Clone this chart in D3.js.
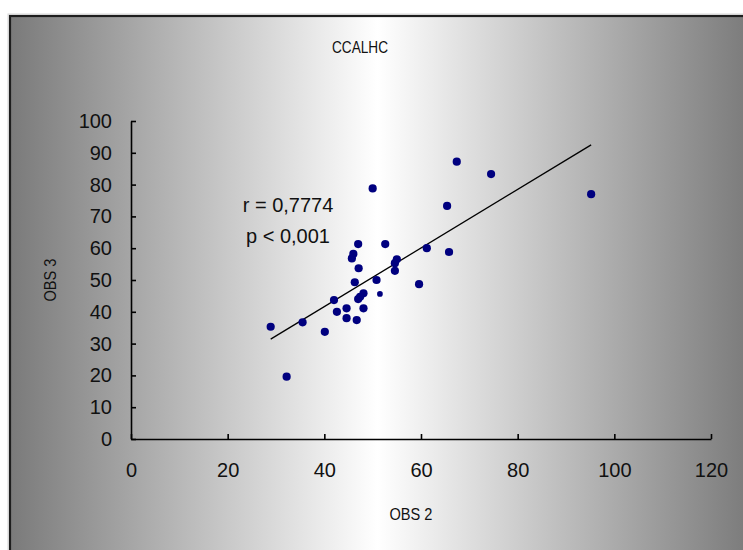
<!DOCTYPE html>
<html>
<head>
<meta charset="utf-8">
<script src="https://cdn.jsdelivr.net/npm/d3@7"></script>
<style>
  html, body { margin: 0; padding: 0; background: #ffffff; }
  svg { display: block; }
  text { font-family: "Liberation Sans", Arial, sans-serif; fill: #111; }
</style>
</head>
<body>
<svg id="chart" width="743" height="550"></svg>
<script>
// ---- data ----
const title = "CCALHC";
const xLabel = "OBS 2";
const yLabel = "OBS 3";
const obs2 = [47.0, 52.6, 46.0, 45.7, 55.0, 54.6, 61.2, 65.8, 47.1, 54.6,
              46.3, 50.8, 59.6, 42.0, 48.1, 47.4, 47.0, 44.6, 42.6, 48.1,
              44.6, 46.7, 35.5, 28.9, 40.1, 32.2, 50.0, 67.4, 65.4, 74.5, 95.2, 51.5];
const obs3 = [61.3, 61.3, 58.2, 56.8, 56.5, 55.3, 60.0, 58.8, 53.7, 52.9,
              49.3, 50.0, 48.7, 43.7, 45.8, 44.7, 44.0, 41.1, 40.0, 41.1,
              38.0, 37.4, 36.7, 35.3, 33.7, 19.6, 78.8, 87.2, 73.3, 83.3, 77.0, 45.6];
const pointSize = [1,1,1,1,1,1,1,1,1,1,1,1,1,1,1,1,1,1,1,1,1,1,1,1,1,1,1,1,1,1,1,0.7];
const trendX = [28.9, 95.2];
const trendY = [31.4, 92.5];
const xTicks = [0, 20, 40, 60, 80, 100, 120];
const yTicks = [0, 10, 20, 30, 40, 50, 60, 70, 80, 90, 100];
const statLines = ["r = 0,7774", "p < 0,001"];

// ---- drawing ----
const svg = d3.select("#chart");
const defs = svg.append("defs");
const grad = defs.append("linearGradient").attr("id", "bg")
  .attr("x1", "0%").attr("x2", "100%").attr("y1", "0%").attr("y2", "0%");
grad.append("stop").attr("offset", "0%").attr("stop-color", "#7a7a7a");
grad.append("stop").attr("offset", "49%").attr("stop-color", "#ffffff");
grad.append("stop").attr("offset", "100%").attr("stop-color", "#777777");

// frame shadow + border + gradient fill
svg.append("rect").attr("x", 8).attr("y", 14).attr("width", 760).attr("height", 560)
  .attr("fill", "none").attr("stroke", "#d8d8d8").attr("stroke-width", 1);
svg.append("rect").attr("x", 10).attr("y", 16).attr("width", 750).attr("height", 550)
  .attr("fill", "url(#bg)").attr("stroke", "#1e1e1e").attr("stroke-width", 2.2);

const x = d3.scaleLinear().domain([0, 120]).range([131, 711]);
const y = d3.scaleLinear().domain([0, 100]).range([439, 121]);

const xAxis = svg.append("g").attr("transform", `translate(0,${y(0)})`)
  .call(d3.axisBottom(x).tickValues(xTicks).tickSizeInner(-5).tickSizeOuter(0).tickPadding(24));
const yAxis = svg.append("g").attr("transform", `translate(${x(0)},0)`)
  .call(d3.axisLeft(y).tickValues(yTicks).tickSizeInner(-5).tickSizeOuter(0).tickPadding(19));
[xAxis, yAxis].forEach(g => {
  g.selectAll("path, line").attr("stroke", "#000").attr("stroke-width", 1.6);
  g.selectAll("text").attr("font-size", 20).attr("fill", "#111")
    .style("font-family", "'Liberation Sans', Arial, sans-serif");
});

// title and axis titles (slightly condensed to match the reference face)
svg.append("text").attr("x", 360).attr("y", 53).attr("text-anchor", "middle")
  .attr("font-size", 17).attr("textLength", 56).attr("lengthAdjust", "spacingAndGlyphs")
  .text(title);
svg.append("text").attr("x", 411).attr("y", 520).attr("text-anchor", "middle")
  .attr("font-size", 17).attr("textLength", 43).attr("lengthAdjust", "spacingAndGlyphs")
  .text(xLabel);
svg.append("text").attr("transform", "translate(56,280) rotate(-90)")
  .attr("text-anchor", "middle").attr("font-size", 17)
  .attr("textLength", 43).attr("lengthAdjust", "spacingAndGlyphs").text(yLabel);

// trendline
const line = d3.line().x(d => x(d[0])).y(d => y(d[1]));
svg.append("path").datum(trendX.map((v, i) => [v, trendY[i]]))
  .attr("d", line).attr("fill", "none").attr("stroke", "#000").attr("stroke-width", 1.3);

// points
const pts = obs2.map((v, i) => ({ x: v, y: obs3[i], s: pointSize[i] }));
svg.append("g").selectAll("circle").data(pts).join("circle")
  .attr("cx", d => x(d.x)).attr("cy", d => y(d.y)).attr("r", d => 4.1 * d.s)
  .attr("fill", "#00007f");

// stats annotation
svg.append("g").selectAll("text").data(statLines).join("text")
  .attr("x", 288).attr("y", (d, i) => 212 + i * 31).attr("text-anchor", "middle")
  .attr("font-size", 20).text(d => d);
</script>
</body>
</html>
